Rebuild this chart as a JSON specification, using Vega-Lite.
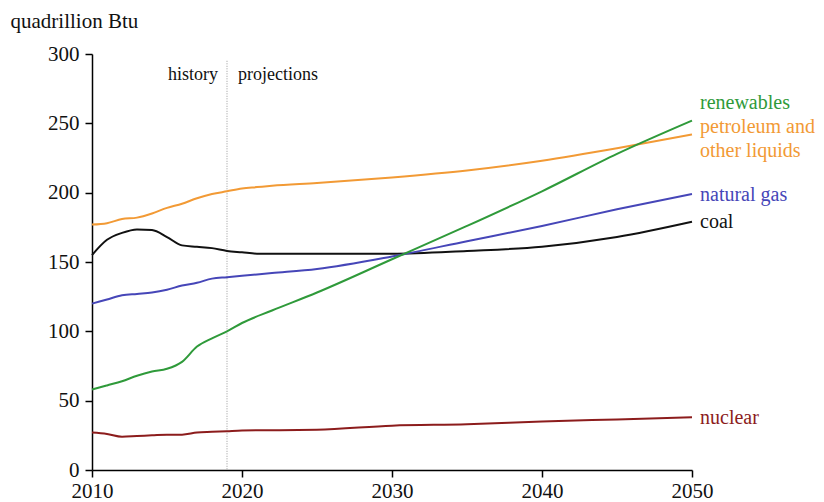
{
  "$schema": "https://vega.github.io/schema/vega-lite/v6.json",
  "width": 600,
  "height": 416,
  "autosize": {"type": "none"},
  "padding": {"left": 92, "top": 54, "right": 132, "bottom": 32},
  "background": "white",
  "config": {
    "view": {"stroke": null},
    "font": "Liberation Serif",
    "axis": {"grid": false, "domainColor": "#000", "tickColor": "#000", "domainWidth": 1.5, "tickWidth": 1.5, "tickSize": 7, "labelFont": "Liberation Serif", "labelFontSize": 21, "labelColor": "#111", "titleFont": "Liberation Serif", "titleFontSize": 21, "titleFontWeight": "normal", "titleColor": "#111"}
  },
  "datasets": {
    "series": [
      {"year": 2010, "fuel": "petroleum", "value": 177},
      {"year": 2011, "fuel": "petroleum", "value": 178},
      {"year": 2012, "fuel": "petroleum", "value": 181},
      {"year": 2013, "fuel": "petroleum", "value": 182},
      {"year": 2014, "fuel": "petroleum", "value": 185},
      {"year": 2015, "fuel": "petroleum", "value": 189},
      {"year": 2016, "fuel": "petroleum", "value": 192},
      {"year": 2017, "fuel": "petroleum", "value": 196},
      {"year": 2018, "fuel": "petroleum", "value": 199},
      {"year": 2019, "fuel": "petroleum", "value": 201},
      {"year": 2020, "fuel": "petroleum", "value": 203},
      {"year": 2021, "fuel": "petroleum", "value": 204},
      {"year": 2022, "fuel": "petroleum", "value": 205},
      {"year": 2025, "fuel": "petroleum", "value": 207},
      {"year": 2030, "fuel": "petroleum", "value": 211},
      {"year": 2035, "fuel": "petroleum", "value": 216},
      {"year": 2040, "fuel": "petroleum", "value": 223},
      {"year": 2045, "fuel": "petroleum", "value": 232},
      {"year": 2050, "fuel": "petroleum", "value": 242},
      {"year": 2010, "fuel": "coal", "value": 155},
      {"year": 2011, "fuel": "coal", "value": 166},
      {"year": 2012, "fuel": "coal", "value": 171},
      {"year": 2013, "fuel": "coal", "value": 173.5},
      {"year": 2014, "fuel": "coal", "value": 173},
      {"year": 2015, "fuel": "coal", "value": 168},
      {"year": 2016, "fuel": "coal", "value": 162},
      {"year": 2017, "fuel": "coal", "value": 161},
      {"year": 2018, "fuel": "coal", "value": 160},
      {"year": 2019, "fuel": "coal", "value": 158},
      {"year": 2020, "fuel": "coal", "value": 157},
      {"year": 2021, "fuel": "coal", "value": 156},
      {"year": 2025, "fuel": "coal", "value": 156},
      {"year": 2030, "fuel": "coal", "value": 156},
      {"year": 2035, "fuel": "coal", "value": 158},
      {"year": 2040, "fuel": "coal", "value": 161},
      {"year": 2045, "fuel": "coal", "value": 168},
      {"year": 2050, "fuel": "coal", "value": 179},
      {"year": 2010, "fuel": "gas", "value": 120},
      {"year": 2011, "fuel": "gas", "value": 123},
      {"year": 2012, "fuel": "gas", "value": 126},
      {"year": 2013, "fuel": "gas", "value": 127},
      {"year": 2014, "fuel": "gas", "value": 128},
      {"year": 2015, "fuel": "gas", "value": 130},
      {"year": 2016, "fuel": "gas", "value": 133},
      {"year": 2017, "fuel": "gas", "value": 135},
      {"year": 2018, "fuel": "gas", "value": 138},
      {"year": 2019, "fuel": "gas", "value": 139},
      {"year": 2020, "fuel": "gas", "value": 140},
      {"year": 2022, "fuel": "gas", "value": 142},
      {"year": 2025, "fuel": "gas", "value": 145},
      {"year": 2030, "fuel": "gas", "value": 154},
      {"year": 2035, "fuel": "gas", "value": 165},
      {"year": 2040, "fuel": "gas", "value": 176},
      {"year": 2045, "fuel": "gas", "value": 188},
      {"year": 2050, "fuel": "gas", "value": 199},
      {"year": 2010, "fuel": "renewables", "value": 58},
      {"year": 2011, "fuel": "renewables", "value": 61},
      {"year": 2012, "fuel": "renewables", "value": 64},
      {"year": 2013, "fuel": "renewables", "value": 68},
      {"year": 2014, "fuel": "renewables", "value": 71},
      {"year": 2015, "fuel": "renewables", "value": 73},
      {"year": 2016, "fuel": "renewables", "value": 78},
      {"year": 2017, "fuel": "renewables", "value": 89},
      {"year": 2018, "fuel": "renewables", "value": 95},
      {"year": 2019, "fuel": "renewables", "value": 100},
      {"year": 2020, "fuel": "renewables", "value": 106},
      {"year": 2022, "fuel": "renewables", "value": 115},
      {"year": 2025, "fuel": "renewables", "value": 128},
      {"year": 2030, "fuel": "renewables", "value": 152},
      {"year": 2035, "fuel": "renewables", "value": 176},
      {"year": 2040, "fuel": "renewables", "value": 201},
      {"year": 2045, "fuel": "renewables", "value": 228},
      {"year": 2050, "fuel": "renewables", "value": 252},
      {"year": 2010, "fuel": "nuclear", "value": 27},
      {"year": 2011, "fuel": "nuclear", "value": 26},
      {"year": 2012, "fuel": "nuclear", "value": 24},
      {"year": 2013, "fuel": "nuclear", "value": 24.5},
      {"year": 2014, "fuel": "nuclear", "value": 25},
      {"year": 2015, "fuel": "nuclear", "value": 25.5},
      {"year": 2016, "fuel": "nuclear", "value": 25.5},
      {"year": 2017, "fuel": "nuclear", "value": 27},
      {"year": 2018, "fuel": "nuclear", "value": 27.5},
      {"year": 2019, "fuel": "nuclear", "value": 28},
      {"year": 2020, "fuel": "nuclear", "value": 28.5},
      {"year": 2025, "fuel": "nuclear", "value": 29},
      {"year": 2030, "fuel": "nuclear", "value": 32},
      {"year": 2035, "fuel": "nuclear", "value": 33},
      {"year": 2040, "fuel": "nuclear", "value": 35},
      {"year": 2045, "fuel": "nuclear", "value": 36.5},
      {"year": 2050, "fuel": "nuclear", "value": 38}
    ],
    "labels": [
      {"year": 2050, "fuel": "renewables", "value": 265, "label": "renewables"},
      {"year": 2050, "fuel": "petroleum", "value": 247, "label": "petroleum and"},
      {"year": 2050, "fuel": "petroleum", "value": 230, "label": "other liquids"},
      {"year": 2050, "fuel": "gas", "value": 198, "label": "natural gas"},
      {"year": 2050, "fuel": "coal", "value": 179, "label": "coal"},
      {"year": 2050, "fuel": "nuclear", "value": 37.5, "label": "nuclear"}
    ]
  },
  "layer": [
    {
      "data": {"values": [{"year": 2019, "y0": 0.5, "y1": 296}]},
      "mark": {"type": "rule", "color": "#999", "strokeDash": [1, 1.5], "strokeWidth": 1},
      "encoding": {
        "x": {"field": "year", "type": "quantitative", "scale": {"domain": [2010, 2050]}},
        "y": {"field": "y0", "type": "quantitative"},
        "y2": {"field": "y1"}
      }
    },
    {
      "data": {"name": "series"},
      "mark": {"type": "line", "strokeWidth": 2, "interpolate": "monotone"},
      "encoding": {
        "x": {"field": "year", "type": "quantitative", "scale": {"domain": [2010, 2050], "nice": false, "zero": false},
              "axis": {"title": null, "values": [2010, 2020, 2030, 2040, 2050], "format": "d", "labelPadding": 3, "labelFlush": false}},
        "y": {"field": "value", "type": "quantitative", "scale": {"domain": [0, 300], "nice": false},
              "axis": {"title": "quadrillion Btu", "values": [0, 50, 100, 150, 200, 250, 300], "labelPadding": 6,
                       "titleAngle": 0, "titleX": -82, "titleY": -27, "titleAlign": "left", "titleBaseline": "alphabetic"}},
        "color": {"field": "fuel", "type": "nominal", "legend": null,
                  "scale": {"domain": ["renewables", "petroleum", "gas", "coal", "nuclear"],
                            "range": ["#2f9a3a", "#f29a35", "#4646b8", "#111111", "#8c1c1c"]}}
      }
    },
    {
      "data": {"name": "labels"},
      "mark": {"type": "text", "align": "left", "baseline": "middle", "dx": 8, "fontSize": 20, "font": "Liberation Serif"},
      "encoding": {
        "x": {"field": "year", "type": "quantitative"},
        "y": {"field": "value", "type": "quantitative"},
        "text": {"field": "label"},
        "color": {"field": "fuel", "type": "nominal", "legend": null}
      }
    },
    {
      "data": {"values": [{"year": 2019, "value": 285, "label": "history"}]},
      "mark": {"type": "text", "align": "right", "baseline": "middle", "dx": -9, "fontSize": 18, "font": "Liberation Serif", "color": "#111"},
      "encoding": {
        "x": {"field": "year", "type": "quantitative"},
        "y": {"field": "value", "type": "quantitative"},
        "text": {"field": "label"}
      }
    },
    {
      "data": {"values": [{"year": 2019, "value": 285, "label": "projections"}]},
      "mark": {"type": "text", "align": "left", "baseline": "middle", "dx": 11, "fontSize": 18, "font": "Liberation Serif", "color": "#111"},
      "encoding": {
        "x": {"field": "year", "type": "quantitative"},
        "y": {"field": "value", "type": "quantitative"},
        "text": {"field": "label"}
      }
    }
  ]
}
